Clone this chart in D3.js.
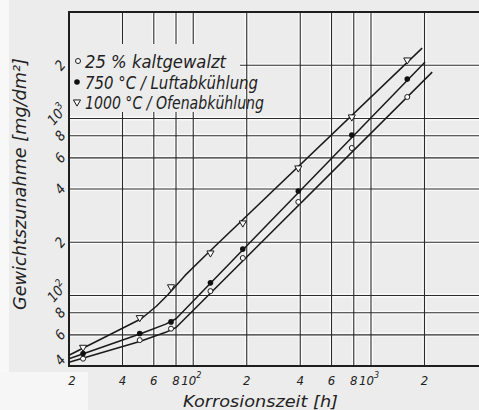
<!DOCTYPE html>
<html>
<head>
<meta charset="utf-8">
<script src="https://cdn.jsdelivr.net/npm/d3@7"></script>
<style>
  body { margin: 0; background: #ececec; }
  svg { display: block; }
</style>
</head>
<body>
<script>
// measured points (hours, mg/dm2)
const hours = [24, 50, 75, 125, 190, 390, 780, 1600];
const kaltgewalzt = [44, 56, 65, 106, 163, 338, 682, 1324];
const luftabkuehlung = [47, 61, 71, 118, 183, 390, 807, 1671];
const ofenabkuehlung = [51, 75, 112, 174, 257, 526, 1021, 2142];

// drawn curves, as [hours, mg/dm2]
const kaltLine = [[20, 42], [50, 55], [70, 62], [80, 66], [2210, 1830]];
const luftLine = [[20, 44], [51, 61], [70, 69], [80, 74], [2015, 2090]];
const ofenLine = [[20, 46], [51, 74], [62, 87], [72, 101], [90, 130], [121, 174], [1940, 2500]];

const xTicks = [20, 40, 60, 80, 100, 200, 400, 600, 800, 1000, 2000];
const yTicks = [40, 60, 80, 100, 200, 400, 600, 800, 1000, 2000];

const legendLabels = ["25 % kaltgewalzt", "750 °C / Luftabkühlung", "1000 °C / Ofenabkühlung"];

const width = 479;
const height = 410;
const font = "'DejaVu Sans Condensed', 'DejaVu Sans', sans-serif";

const x = d3.scaleLog().domain([20, 4000]).range([69, 478]);
const y = d3.scaleLog().domain([40, 4000]).range([366, 12]);

const svg = d3.create("svg")
  .attr("width", width)
  .attr("height", height)
  .attr("viewBox", [0, 0, width, height])
  .style("font-family", font)
  .style("font-style", "italic");

svg.append("rect").attr("width", width).attr("height", height).attr("fill", "#ececec");
svg.append("rect").attr("x", 0).attr("y", 0).attr("width", 9).attr("height", height).attr("fill", "#f8f8f8");
svg.append("rect").attr("x", 0).attr("y", 372).attr("width", 88).attr("height", 38).attr("fill", "#f6f6f6");

// grid
const grid = svg.append("g");
for (const [stroke, w] of [["#fafafa", 4], ["#2b2b2b", 1.1]]) {
  grid.append("g")
    .selectAll("line")
    .data(xTicks.slice(1))
    .join("line")
    .attr("x1", d => x(d)).attr("x2", d => x(d))
    .attr("y1", y.range()[1]).attr("y2", y.range()[0])
    .attr("stroke", stroke).attr("stroke-width", w);
  grid.append("g")
    .selectAll("line")
    .data(yTicks.slice(1))
    .join("line")
    .attr("x1", x.range()[0]).attr("x2", x.range()[1] + 2)
    .attr("y1", d => y(d)).attr("y2", d => y(d))
    .attr("stroke", stroke).attr("stroke-width", w);
}

// legend patch covers the grid
svg.append("rect")
  .attr("x", 70).attr("y", 44).attr("width", 170).attr("height", 68)
  .attr("fill", "#ececec");

// frame
svg.append("path")
  .attr("d", `M${x.range()[1] + 3},${y.range()[1]}H${x.range()[0]}V${y.range()[0]}H${x.range()[1] + 3}`)
  .attr("fill", "none")
  .attr("stroke", "#1e1e1e")
  .attr("stroke-width", 2);

// tick labels
const sup = { 100: "2", 1000: "3" };
const mant = d => String(Math.round(d / Math.pow(10, Math.floor(Math.log10(d)))));

const xl = svg.append("g").attr("font-size", 13).attr("fill", "#222");
xTicks.forEach(d => {
  const t = xl.append("text").attr("y", 385);
  if (sup[d]) {
    t.attr("x", x(d) - 12).attr("text-anchor", "start");
    t.append("tspan").text("10");
    t.append("tspan").attr("font-size", 9).attr("dy", -7).text(sup[d]);
  } else {
    t.attr("x", d === 20 ? x(d) + 3 : x(d)).attr("text-anchor", "middle").text(mant(d));
  }
});

const yl = svg.append("g").attr("font-size", 14).attr("fill", "#222");
yTicks.forEach(d => {
  const py = d === 40 ? y(d) - 6 : (sup[d] ? y(d) - 4 : y(d));
  const g = yl.append("g").attr("transform", `translate(${sup[d] ? 57 : 60},${py}) rotate(-50)`);
  const t = g.append("text").attr("dy", "0.35em").attr("text-anchor", "middle");
  if (sup[d]) {
    t.append("tspan").text("10");
    t.append("tspan").attr("font-size", 10).attr("dy", "-0.6em").text(sup[d]);
  } else {
    t.text(mant(d));
  }
});

// axis titles
svg.append("text")
  .attr("x", 183).attr("y", 407)
  .attr("font-size", 16).attr("fill", "#222")
  .attr("textLength", 155).attr("lengthAdjust", "spacingAndGlyphs")
  .text("Korrosionszeit [h]");

svg.append("text")
  .attr("transform", "translate(26,310) rotate(-90)")
  .attr("font-size", 17).attr("fill", "#222")
  .attr("textLength", 252).attr("lengthAdjust", "spacingAndGlyphs")
  .text("Gewichtszunahme [mg/dm²]");

// curves
const line = d3.line()
  .x(d => x(d[0]))
  .y(d => y(d[1]));

svg.append("g")
  .attr("fill", "none")
  .attr("stroke", "#1a1a1a")
  .attr("stroke-width", 1.5)
  .attr("stroke-linejoin", "round")
  .selectAll("path")
  .data([kaltLine, luftLine, ofenLine])
  .join("path")
  .attr("d", line);

// markers
const tri = d3.symbol().type(d3.symbolTriangle).size(22);
svg.append("g")
  .selectAll("circle")
  .data(hours.map((h, i) => [h, kaltgewalzt[i]]))
  .join("circle")
  .attr("cx", d => x(d[0])).attr("cy", d => y(d[1])).attr("r", 2.5)
  .attr("fill", "#fff").attr("stroke", "#1a1a1a").attr("stroke-width", 1);

svg.append("g")
  .selectAll("circle")
  .data(hours.map((h, i) => [h, luftabkuehlung[i]]))
  .join("circle")
  .attr("cx", d => x(d[0])).attr("cy", d => y(d[1])).attr("r", 2.8)
  .attr("fill", "#111");

svg.append("g")
  .selectAll("path")
  .data(hours.map((h, i) => [h, ofenabkuehlung[i]]))
  .join("path")
  .attr("d", tri)
  .attr("transform", d => `translate(${x(d[0])},${y(d[1])}) rotate(180)`)
  .attr("fill", "#fff").attr("stroke", "#1a1a1a").attr("stroke-width", 1);

// legend
const lg = svg.append("g").attr("font-size", 17).attr("fill", "#222");
const lens = [141, 173, 179];
legendLabels.forEach((s, i) => {
  const cy = 62 + i * 20.5;
  lg.append("text")
    .attr("x", 85).attr("y", cy + 6)
    .attr("textLength", lens[i]).attr("lengthAdjust", "spacingAndGlyphs")
    .text(s);
});
lg.append("circle").attr("cx", 78).attr("cy", 61).attr("r", 2.5)
  .attr("fill", "#fff").attr("stroke", "#1a1a1a");
lg.append("circle").attr("cx", 77).attr("cy", 82).attr("r", 2.8).attr("fill", "#111");
lg.append("path").attr("d", tri)
  .attr("transform", "translate(77,102) rotate(180)")
  .attr("fill", "#fff").attr("stroke", "#1a1a1a");

document.body.appendChild(svg.node());
</script>
</body>
</html>
